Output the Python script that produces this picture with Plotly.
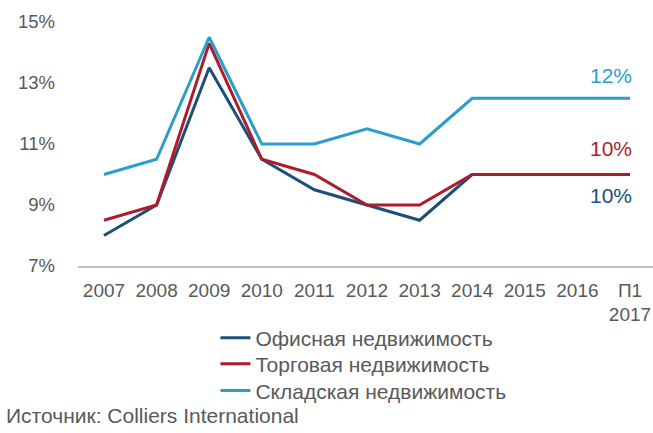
import plotly.graph_objects as go

categories = ["2007", "2008", "2009", "2010", "2011", "2012", "2013", "2014", "2015", "2016", "П1<br>2017"]
office = [8.0, 9.0, 13.5, 10.5, 9.5, 9.0, 8.5, 10.0, 10.0, 10.0, 10.0]
retail = [8.5, 9.0, 14.3, 10.5, 10.0, 9.0, 9.0, 10.0, 10.0, 10.0, 10.0]
warehouse = [10.0, 10.5, 14.5, 11.0, 11.0, 11.5, 11.0, 12.5, 12.5, 12.5, 12.5]
names = ["Офисная недвижимость", "Торговая недвижимость", "Складская недвижимость"]
colors = ["#1d4e78", "#ad1c2d", "#2b9fcb"]
end_labels = ["10%", "10%", "12%"]
label_pos = [9.3, 10.85, 13.25]
yticks = [7, 9, 11, 13, 15]

legend_ids = ["legend", "legend2", "legend3"]
legend_y = [-0.295, -0.402, -0.512]

fig = go.Figure()
for name, vals, col, lg in zip(names, [office, retail, warehouse], colors, legend_ids):
    fig.add_trace(go.Scatter(x=categories, y=vals, name=name, mode="lines",
                             line=dict(color=col, width=3), legend=lg))

for txt, yv, col in zip(end_labels, label_pos, colors):
    fig.add_annotation(x=categories[-1], y=yv, xref="x", yref="y", text=txt,
                       showarrow=False, xanchor="right", xshift=4,
                       font=dict(size=21, color=col))

fig.add_annotation(x=0, y=0, xref="paper", yref="paper", xanchor="left", yanchor="middle",
                   text="Источник: Colliers International", showarrow=False,
                   xshift=-74, yshift=-149, font=dict(size=21, color="#595959"))

leg_common = dict(x=0.239, xanchor="left", yanchor="middle", orientation="v",
                  font=dict(size=21, color="#595959"), bgcolor="rgba(0,0,0,0)")
layout_legends = {lg: dict(y=ly, **leg_common) for lg, ly in zip(legend_ids, legend_y)}

fig.update_layout(
    width=653, height=433,
    margin=dict(l=78, r=0, t=22, b=167),
    paper_bgcolor="white", plot_bgcolor="white",
    font=dict(family="Liberation Sans, Arial, sans-serif", size=19, color="#595959"),
    showlegend=True,
    **layout_legends,
)
fig.update_xaxes(type="category", showline=True, linecolor="#bfbfbf", linewidth=1.5,
                 showgrid=False, ticks="", range=[-0.494, 10.437], tickangle=0,
                 ticklabelstandoff=6, tickfont=dict(size=19))
fig.update_yaxes(range=[7, 15], tickvals=yticks, ticktext=[f"{v}%" for v in yticks],
                 showgrid=False, zeroline=False, showline=False, ticks="",
                 ticklabelstandoff=22, tickfont=dict(size=18.5))

fig.write_html("out.html")
